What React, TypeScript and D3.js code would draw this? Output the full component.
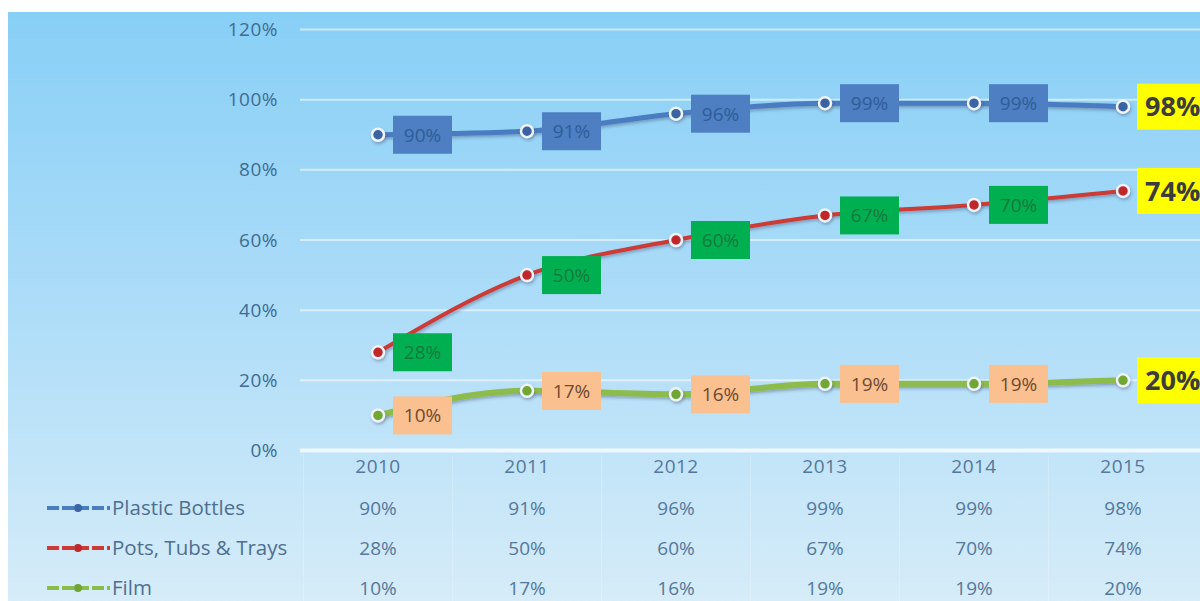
import React from "react";
import * as d3 from "d3";

const years = ["2010", "2011", "2012", "2013", "2014", "2015"];
const plasticBottles = [0.9, 0.91, 0.96, 0.99, 0.99, 0.98];
const potsTubsTrays = [0.28, 0.5, 0.6, 0.67, 0.7, 0.74];
const film = [0.1, 0.17, 0.16, 0.19, 0.19, 0.2];
const yTicks = [0, 0.2, 0.4, 0.6, 0.8, 1.0, 1.2];
const seriesNames = ["Plastic Bottles", "Pots, Tubs & Trays", "Film"];

const W = 1200;
const H = 601;

const seriesStyle = [
  { line: "#4a7cc0", marker: "#3a64a4", box: "#4d7fc2", text: "#2f5d99", width: 5 },
  { line: "#cc3b35", marker: "#c0282a", box: "#00b050", text: "#137a3a", width: 4 },
  { line: "#8cbc4c", marker: "#6fa633", box: "#fac090", text: "#6e4a30", width: 6 },
];

export default function App() {
  const x = d3.scaleBand<string>().domain(years).range([303.5, 1197.5]);
  const y = d3.scaleLinear().domain([0, 1.2]).range([450.5, 29.5]);
  const cx = (yr: string) => (x(yr) as number) + x.bandwidth() / 2;
  const fmt = d3.format(".0%");
  const line = d3
    .line<number>()
    .x((_, i) => cx(years[i]))
    .y((d) => y(d))
    .curve(d3.curveMonotoneX);
  const all = [plasticBottles, potsTubsTrays, film];
  const rowY = [508, 548, 588];
  const font = "'Open Sans', 'DejaVu Sans', sans-serif";

  return (
    <div style={{ position: "fixed", left: 0, top: 0 }}>
      <svg width={W} height={H} style={{ display: "block", background: "#fff" }}>
        <defs>
          <linearGradient id="bg" x1="0" y1="0" x2="0" y2="1">
            <stop offset="0" stopColor="#88cff6" />
            <stop offset="0.45" stopColor="#a9dbf8" />
            <stop offset="1" stopColor="#d6ecf8" />
          </linearGradient>
          <filter id="sh" x="-50%" y="-50%" width="200%" height="200%">
            <feDropShadow dx="1" dy="2" stdDeviation="1.5" floodColor="#335" floodOpacity="0.35" />
          </filter>
        </defs>
        <rect x={8} y={12} width={W - 8} height={H - 12} fill="url(#bg)" />

        {/* gridlines */}
        {yTicks.map((t) => (
          <line
            key={t}
            x1={300}
            x2={W}
            y1={y(t)}
            y2={y(t)}
            stroke="#ffffff"
            strokeOpacity={t === 0 ? 0.75 : 0.55}
            strokeWidth={t === 0 ? 4 : 2}
          />
        ))}
        {/* y tick labels */}
        {yTicks.map((t) => (
          <text
            key={"l" + t}
            x={278}
            y={y(t)}
            dy="0.35em"
            textAnchor="end"
            fontFamily={font}
            fontSize={19}
            letterSpacing={0.5}
            fill="#3f6b93"
          >
            {fmt(t)}
          </text>
        ))}

        {/* table separators */}
        {years.map((yr) => (
          <line
            key={"v" + yr}
            x1={x(yr) as number}
            x2={x(yr) as number}
            y1={455}
            y2={H}
            stroke="#ffffff"
            strokeOpacity={0.22}
          />
        ))}

        {/* lines */}
        {all.map((vals, si) => (
          <path
            key={"p" + si}
            d={line(vals) || ""}
            fill="none"
            stroke={seriesStyle[si].line}
            strokeWidth={seriesStyle[si].width}
            filter="url(#sh)"
          />
        ))}
        {/* markers */}
        {all.map((vals, si) =>
          vals.map((v, i) => (
            <circle
              key={"m" + si + i}
              cx={cx(years[i])}
              cy={y(v)}
              r={6}
              fill={seriesStyle[si].marker}
              stroke="#eef4fa"
              strokeWidth={2.5}
              filter="url(#sh)"
            />
          ))
        )}
        {/* data labels */}
        {all.map((vals, si) =>
          vals.map((v, i) => {
            const px = cx(years[i]);
            const py = y(v);
            const last = i === years.length - 1;
            if (last) {
              return (
                <g key={"d" + si + i}>
                  <rect x={px + 14} y={py - 23} width={80} height={46} fill="#ffff00" />
                  <text
                    x={px + 22}
                    y={py}
                    dy="0.36em"
                    fontFamily={font}
                    fontSize={27}
                    fontWeight="bold"
                    fill="#3c3c3c"
                  >
                    {fmt(v)}
                  </text>
                </g>
              );
            }
            return (
              <g key={"d" + si + i}>
                <rect x={px + 15} y={py - 19} width={59} height={38} fill={seriesStyle[si].box} />
                <text
                  x={px + 44.5}
                  y={py}
                  dy="0.36em"
                  textAnchor="middle"
                  fontFamily={font}
                  fontSize={19}
                  fill={seriesStyle[si].text}
                >
                  {fmt(v)}
                </text>
              </g>
            );
          })
        )}

        {/* data table: years */}
        {years.map((yr) => (
          <text
            key={"y" + yr}
            x={cx(yr)}
            y={466}
            dy="0.35em"
            textAnchor="middle"
            fontFamily={font}
            fontSize={19}
            letterSpacing={0.5}
            fill="#56789a"
          >
            {yr}
          </text>
        ))}
        {all.map((vals, si) =>
          vals.map((v, i) => (
            <text
              key={"t" + si + i}
              x={cx(years[i])}
              y={rowY[si]}
              dy="0.35em"
              textAnchor="middle"
              fontFamily={font}
              fontSize={19}
              fill="#56789a"
            >
              {fmt(v)}
            </text>
          ))
        )}
        {/* legend keys */}
        {seriesNames.map((name, si) => (
          <g key={"k" + si}>
            <line
              x1={47}
              x2={110}
              y1={rowY[si]}
              y2={rowY[si]}
              stroke={seriesStyle[si].line}
              strokeWidth={4}
              strokeDasharray="12 3"
            />
            <circle cx={78} cy={rowY[si]} r={4} fill={seriesStyle[si].marker} />
            <text
              x={112}
              y={rowY[si]}
              dy="0.35em"
              fontFamily={font}
              fontSize={20.5}
              fill="#4f6f8f"
            >
              {name}
            </text>
          </g>
        ))}
      </svg>
    </div>
  );
}
